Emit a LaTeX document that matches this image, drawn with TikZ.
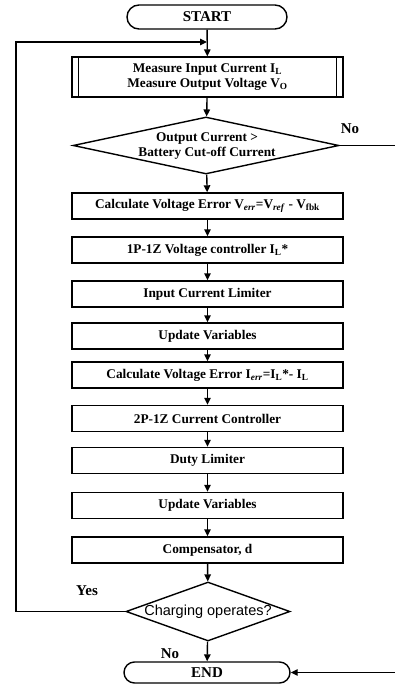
\documentclass[tikz,border=0pt]{standalone}
\usepackage{fontspec}
\setmainfont{Liberation Serif}
\newfontfamily\arialfont{Liberation Sans}
\usetikzlibrary{shapes.geometric,shapes.misc,arrows.meta}
\begin{document}
\begin{tikzpicture}[x=1pt,y=-1pt,
  txt/.style={font=\fontsize{13.3}{15.5}\selectfont\bfseries,inner sep=0pt,align=center},
  proc/.style={draw,line width=1.4pt,minimum width=271pt,minimum height=26pt,inner sep=0pt,font=\fontsize{13.3}{15.5}\selectfont\bfseries,align=center},
  term/.style={draw,rounded rectangle,line width=1.4pt,minimum width=160pt,minimum height=24pt,inner sep=0pt,font=\fontsize{15}{18}\selectfont\bfseries},
  dec/.style={draw,diamond,line width=1.4pt,inner sep=0pt},
  flow/.style={line width=1.4pt,-{Triangle[length=7pt,width=6.5pt]}},
  conn/.style={line width=1.4pt},
  lbl/.style={font=\fontsize{15}{18}\selectfont\bfseries,inner sep=0pt}
]
\useasboundingbox (0,0) rectangle (394,685);
\node[term] (start) at (207,17) {START};
\node[proc,minimum height=40pt] (meas) at (207.5,77) {Measure Input Current I\textsubscript{L}\\Measure Output Voltage V\textsubscript{O}};
\draw[conn] ([xshift=7pt]meas.north west) -- ([xshift=7pt]meas.south west);
\draw[conn] ([xshift=-7pt]meas.north east) -- ([xshift=-7pt]meas.south east);
\node[dec,minimum width=266pt,minimum height=57pt] (d1) at (206,145.5) {};
\node[txt] (d1t) at (207,146) {Output Current >\\Battery Cut-off Current};
\node[proc] (b1) at (207.5,206) {Calculate Voltage Error V\textsubscript{\textit{err}}=V\textsubscript{\textit{ref}} - V\textsubscript{fbk}};
\node[proc] (b2) at (207.5,250) {1P-1Z Voltage controller I\textsubscript{L}*};
\node[proc] (b3) at (207.5,294) {Input Current Limiter};
\node[proc] (b4) at (207.5,336) {Update Variables};
\node[proc] (b5) at (207.5,375) {Calculate Voltage Error I\textsubscript{\textit{err}}=I\textsubscript{L}*- I\textsubscript{L}};
\node[proc] (b6) at (207.5,418.5) {2P-1Z Current Controller};
\node[proc] (b7) at (207.5,460.5) {Duty Limiter};
\node[proc] (b8) at (207.5,505.5) {Update Variables};
\node[proc] (b9) at (207.5,550) {Compensator, d};
\node[dec,minimum width=164pt,minimum height=59pt] (d2) at (208,611.5) {};
\node[font=\fontsize{14.5}{17}\arialfont,inner sep=0pt] (d2t) at (208,612) {Charging operates?};
\node[term,minimum width=166pt,minimum height=21pt] (end) at (207,672.5) {END};
\coordinate (j1) at (207,42);
\coordinate (fl) at (16,42);
\coordinate (fr) at (397,145.5);
\coordinate (fr2) at (397,672.5);
\node[lbl] (yes) at (87,591) {Yes};
\node[lbl] (no1) at (350,129) {No};
\node[lbl] (no2) at (170,654) {No};
\draw[flow] (start) -- (meas);
\draw[flow] (meas) -- (d1);
\draw[flow] (d1) -- (b1);
\draw[flow] (b1) -- (b2);
\draw[flow] (b2) -- (b3);
\draw[flow] (b3) -- (b4);
\draw[flow] (b4) -- (b5);
\draw[flow] (b5) -- (b6);
\draw[flow] (b6) -- (b7);
\draw[flow] (b7) -- (b8);
\draw[flow] (b8) -- (b9);
\draw[flow] (b9) -- (d2);
\draw[flow] (d2) -- (end);
\draw[flow] (d2.west) -| (fl) -- (j1);
\draw[flow] (d1.east) -- (fr) -- (fr2) -- (end.east);
\end{tikzpicture}
\end{document}
